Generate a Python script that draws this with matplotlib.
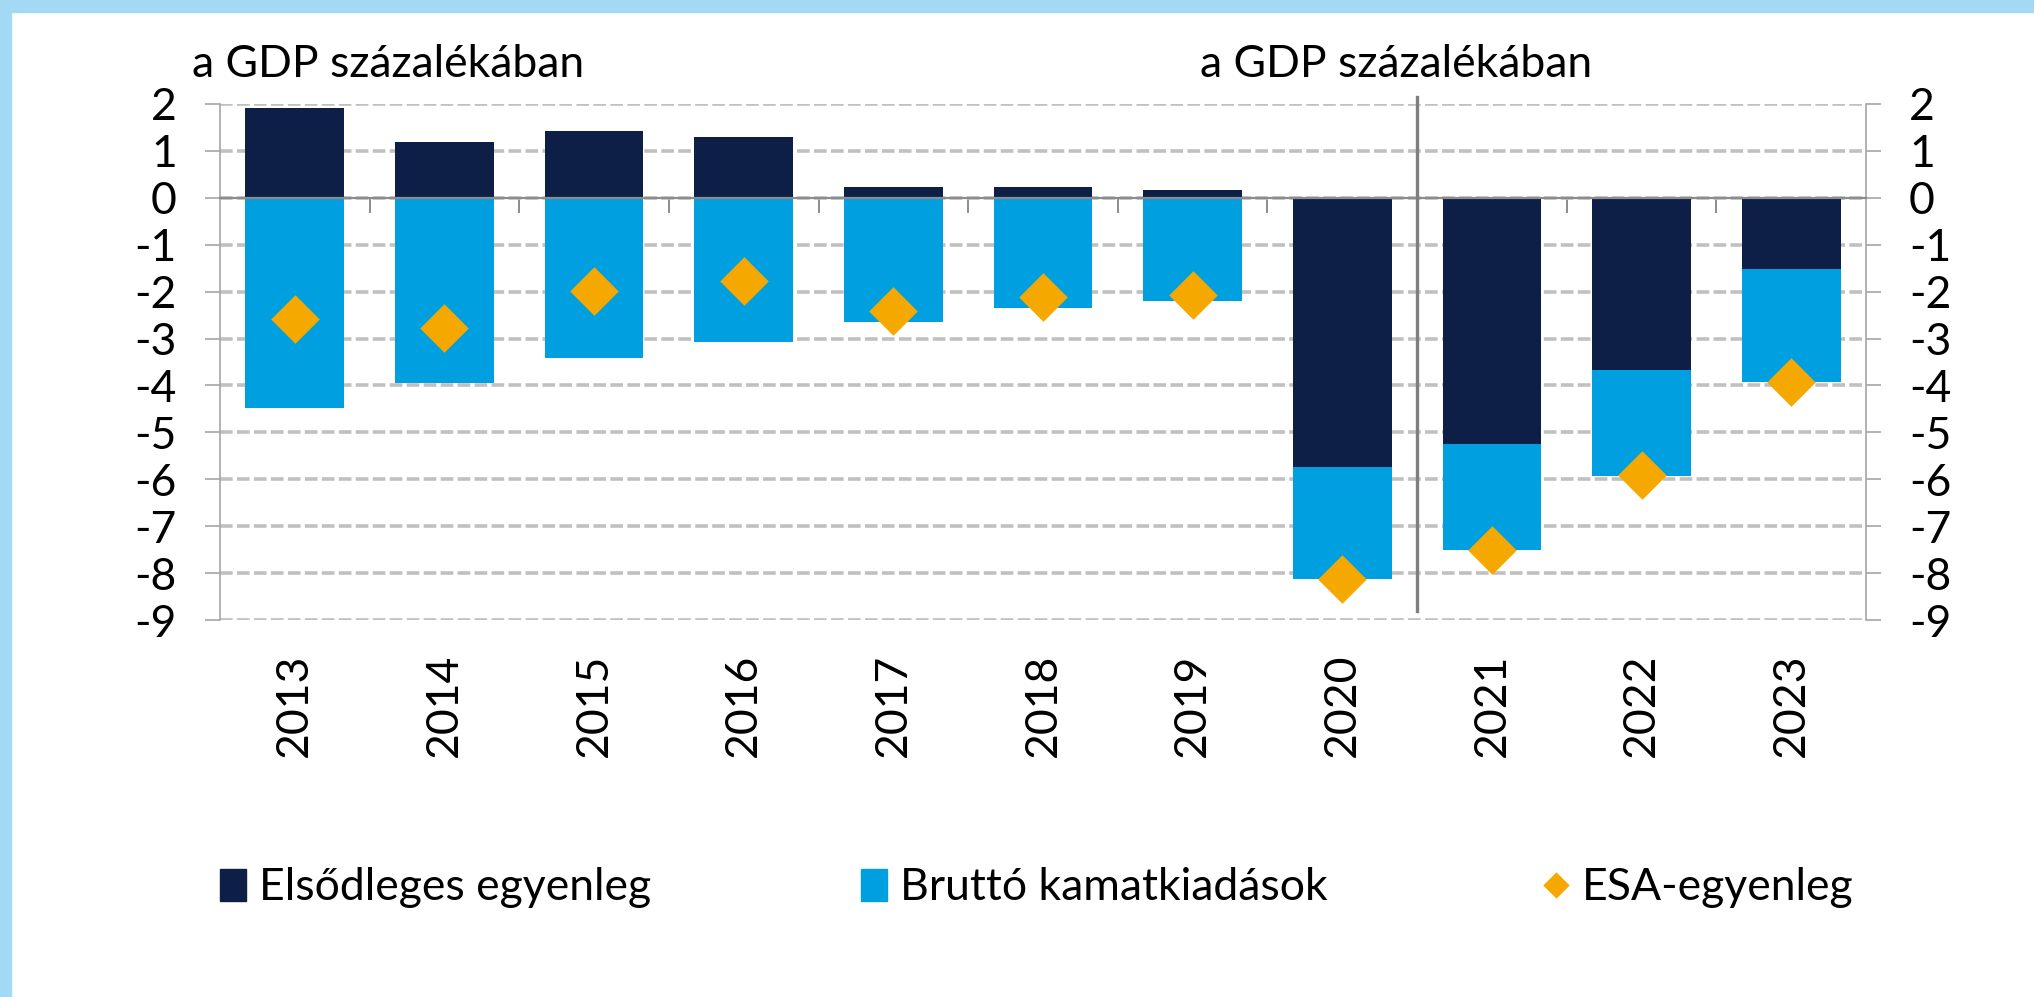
import matplotlib.pyplot as plt
from matplotlib.patches import Patch, Rectangle
from matplotlib.lines import Line2D
from matplotlib.path import Path

plt.rcParams['font.family'] = ['Lato', 'DejaVu Sans']
plt.rcParams['axes.unicode_minus'] = False

years = ['2013', '2014', '2015', '2016', '2017', '2018', '2019', '2020', '2021', '2022', '2023']
primary = [1.91, 1.18, 1.43, 1.30, 0.23, 0.24, 0.16, -5.74, -5.24, -3.66, -1.51]
interest = [-4.49, -3.94, -3.42, -3.07, -2.64, -2.34, -2.21, -2.38, -2.27, -2.27, -2.41]
esa = [-2.59, -2.77, -1.99, -1.78, -2.42, -2.11, -2.07, -8.12, -7.51, -5.90, -3.92]
yticks = list(range(-9, 3))
unit_title = 'a GDP százalékában'
labels = ['Elsődleges egyenleg', 'Bruttó kamatkiadások', 'ESA-egyenleg']

dark = '#0E1F47'
light = '#009FDF'
orange = '#F5A800'
grey = '#A6A6A6'
fs = 32

fig = plt.figure(figsize=(20.34, 9.97), dpi=100)
ax = fig.add_axes([220 / 2034, 1 - 620 / 997, (1866 - 220) / 2034, 516 / 997])

# light blue frame on top and left
fig.patches.append(Rectangle((0, 1 - 12 / 997), 1, 12 / 997, transform=fig.transFigure,
                             color='#A3D9F5', zorder=0))
fig.patches.append(Rectangle((0, 0), 11 / 2034, 1, transform=fig.transFigure,
                             color='#A3D9F5', zorder=0))

x = list(range(len(years)))
bottoms = [min(p, 0) for p in primary]
ax.bar(x, primary, width=0.66, color=dark, zorder=2)
ax.bar(x, interest, width=0.66, bottom=bottoms, color=light, zorder=2)

diamond = Path([(0, 1), (1, 0), (0, -1), (-1, 0), (0, 1)])
ax.plot(x, esa, linestyle='none', marker=diamond, markersize=35, color=orange,
        markeredgewidth=0, zorder=4)

ax.set_xlim(-0.5, len(years) - 0.5)
ax.set_ylim(-9, 2)
ax.set_yticks(yticks)
ax.yaxis.grid(True, color='#C0C0C0', linewidth=2.6, linestyle=(0, (3.5, 1.2)), zorder=0)
ax.set_axisbelow(True)

for s in ['left', 'right']:
    ax.spines[s].set_color(grey)
    ax.spines[s].set_linewidth(1.2)
ax.spines['top'].set_visible(False)
ax.spines['bottom'].set_position(('data', 0))
ax.spines['bottom'].set_color('#8C8C8C')
ax.spines['bottom'].set_linewidth(1.6)
ax.spines['bottom'].set_zorder(3)

ax.set_xticks([])
ax.set_xticks([i + 0.5 for i in x[:-1]], minor=True)
ax.tick_params(axis='x', which='minor', length=11, width=1.4, color='#8C8C8C', direction='out')
ax.tick_params(axis='y', which='major', left=True, right=True, labelleft=True, labelright=True,
               length=11, width=1.2, color=grey, labelsize=fs, pad=20)

sec = ax.secondary_xaxis('bottom')
sec.set_xticks(x, years, rotation=90, fontsize=fs)
sec.tick_params(length=0, pad=24)
sec.spines['bottom'].set_visible(False)

# separator between 2020 and 2021
ax.plot([7.5, 7.5], [2.15, -8.8], color='#7F7F7F', linewidth=2.4, clip_on=False, zorder=5)

fig.text(192 / 2034, 1 - 77 / 997, unit_title, fontsize=fs, va='baseline', ha='left')
fig.text(1200 / 2034, 1 - 77 / 997, unit_title, fontsize=fs, va='baseline', ha='left')

handles = [Patch(color=dark), Patch(color=light),
           Line2D([], [], linestyle='none', marker=diamond, markersize=19, color=orange,
                  markeredgewidth=0)]
lefts = [220, 861, 1543]
for h, lab, lx in zip(handles, labels, lefts):
    fig.legend([h], [lab], loc='center left', bbox_to_anchor=(lx / 2034, 1 - 888 / 997),
               frameon=False, fontsize=fs, handlelength=0.58, handleheight=0.7,
               handletextpad=0.3, borderpad=0, borderaxespad=0)

fig.savefig('out.png', dpi=100)
